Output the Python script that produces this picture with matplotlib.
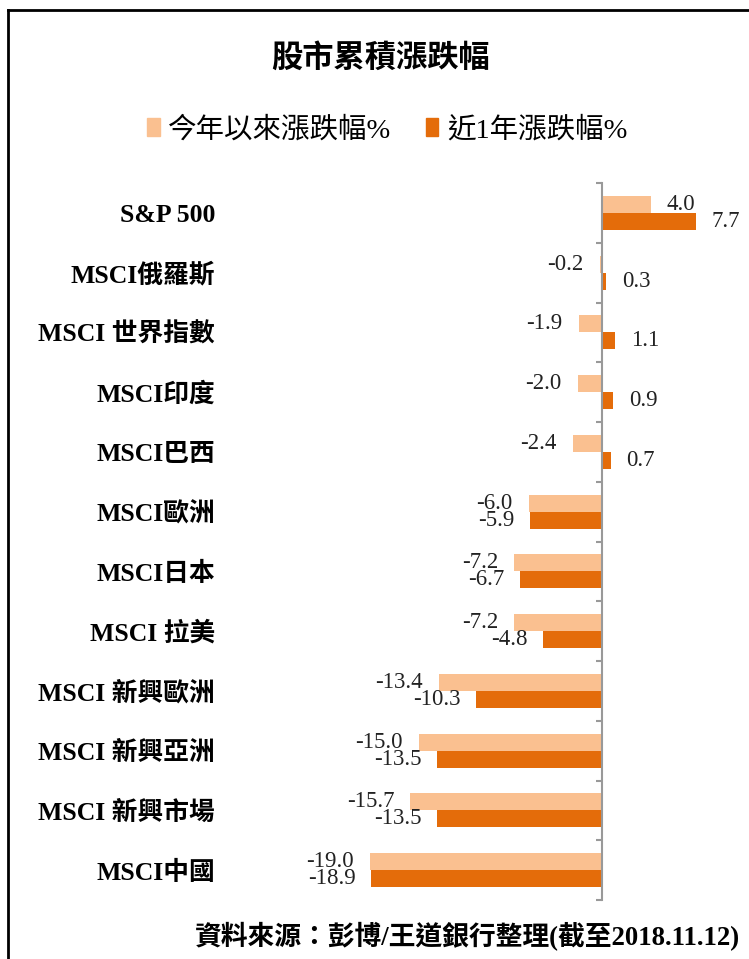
import matplotlib
matplotlib.use("Agg")
import matplotlib.pyplot as plt
from matplotlib.lines import Line2D
from matplotlib.patches import Patch

categories = ["S&P 500", "MSCI俄羅斯", "MSCI 世界指數", "MSCI印度", "MSCI巴西",
              "MSCI歐洲", "MSCI日本", "MSCI 拉美", "MSCI 新興歐洲",
              "MSCI 新興亞洲", "MSCI 新興市場", "MSCI中國"]
ytd = [4.0, -0.2, -1.9, -2.0, -2.4, -6.0, -7.2, -7.2, -13.4, -15.0, -15.7, -19.0]
one_year = [7.7, 0.3, 1.1, 0.9, 0.7, -5.9, -6.7, -4.8, -10.3, -13.5, -13.5, -18.9]
series_names = ["今年以來漲跌幅%", "近1年漲跌幅%"]

light = "#FAC090"
dark = "#E46C0A"
mixed = ["Liberation Serif", "Noto Sans CJK TC"]

W, H = 749, 959
fig = plt.figure(figsize=(W / 100, H / 100), dpi=100)

# axes: zero line at x=602px, 12.2 px per unit
ax_l, ax_r = 224.7, 741.5
ax_t, ax_b = 183, 900
ax = fig.add_axes([ax_l / W, 1 - ax_b / H, (ax_r - ax_l) / W, (ax_b - ax_t) / H])
ax.set_xlim(-(602 - ax_l) / 12.2, (ax_r - 602) / 12.2)

pos = list(range(len(categories)))
h = 0.285
b1 = ax.barh([p - h / 2 for p in pos], ytd, height=h, color=light, label=series_names[0])
b2 = ax.barh([p + h / 2 for p in pos], one_year, height=h, color=dark, label=series_names[1])
ax.set_ylim(len(categories) - 0.5, -0.5)

for bars in (b1, b2):
    ax.bar_label(bars, fmt="%.1f", padding=11.5, fontsize=16.5,
                 family="Liberation Serif", color="#222222")

for s in ["top", "bottom", "left"]:
    ax.spines[s].set_visible(False)
ax.spines["right"].set_position(("data", 0))
ax.spines["right"].set_color("#999999")
ax.spines["right"].set_linewidth(1.5)

ax.set_xticks([])
ax.set_yticks(pos)
ax.set_yticklabels(categories, fontsize=18.5, fontweight="bold", family=mixed)
ax.set_yticks([p - 0.5 for p in range(len(categories) + 1)], minor=True)
ax.tick_params(axis="y", which="major", left=False, right=False, labelleft=True, pad=3.5)
ax.tick_params(axis="y", which="minor", left=False, right=True, direction="in",
               length=4.5, width=1.5, color="#999999")

fig.text(381 / W, 1 - 58 / H, "股市累積漲跌幅", ha="center", va="center",
         fontsize=22.5, fontweight="bold", family="Noto Sans CJK TC")

handles = [Patch(color=light), Patch(color=dark)]
fig.legend(handles, series_names, loc="center", bbox_to_anchor=(387 / W, 1 - 130 / H),
           ncol=2, frameon=False, handlelength=0.45, handleheight=0.6,
           handletextpad=0.3, columnspacing=1.2,
           prop={"family": mixed, "size": 20.5})

fig.text(740 / W, 1 - 937 / H, "資料來源：彭博/王道銀行整理(截至2018.11.12)",
         ha="right", va="center", fontsize=19.3, fontweight="bold", family=mixed)

# outer frame (left and top edges visible)
fig.add_artist(Line2D([8 / W, 8 / W], [0, 1 - 10 / H], color="black", lw=2))
fig.add_artist(Line2D([8 / W, 1], [1 - 10 / H, 1 - 10 / H], color="black", lw=2))

fig.savefig("out.png", dpi=100)
